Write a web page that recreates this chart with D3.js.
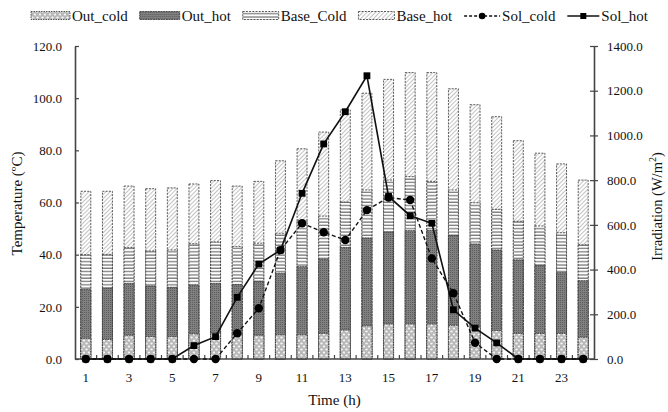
<!DOCTYPE html>
<html>
<head>
<meta charset="utf-8">
<script src="https://cdn.jsdelivr.net/npm/d3@7"></script>
<style>
  html, body { margin: 0; padding: 0; background: #fff; }
  svg text { font-family: "Liberation Serif", "Times New Roman", serif; fill: #111; }
</style>
</head>
<body>
<div id="chart"></div>
<script>
// hours of the day
var hours = [1, 2, 3, 4, 5, 6, 7, 8, 9, 10, 11, 12, 13, 14, 15, 16, 17, 18, 19, 20, 21, 22, 23, 24];
var xTickLabels = [1, 3, 5, 7, 9, 11, 13, 15, 17, 19, 21, 23];

// temperatures (ºC)
var outCold  = [7.9, 7.5, 9.1, 8.6, 8.6, 9.6, 10.0, 9.3, 9.1, 9.3, 9.3, 9.8, 11.1, 12.7, 13.4, 13.4, 13.4, 12.9, 12.2, 10.9, 9.8, 9.8, 9.8, 8.3];
var outHot   = [26.7, 27.2, 29.0, 28.0, 27.5, 28.3, 29.0, 28.5, 29.8, 32.9, 35.4, 38.2, 42.8, 46.4, 48.7, 49.2, 49.3, 47.4, 44.1, 41.8, 38.0, 35.9, 33.1, 30.0];
var baseCold = [40.0, 40.1, 42.7, 41.4, 41.8, 44.2, 44.9, 43.1, 44.4, 48.2, 53.2, 54.8, 60.2, 64.8, 68.6, 69.9, 68.1, 64.8, 59.9, 57.4, 52.8, 51.0, 48.4, 43.8];
var baseHot  = [64.3, 64.3, 66.3, 65.3, 65.6, 67.1, 68.4, 66.3, 68.1, 76.0, 80.6, 87.0, 95.5, 101.9, 107.2, 109.8, 109.8, 103.6, 97.5, 92.9, 83.7, 78.9, 74.8, 68.6];

// irradiation (W/m2)
var solCold = [0, 0, 0, 0, 0, 0, 0, 115, 227, 487, 607, 567, 532, 666, 722, 711, 450, 294, 73, 0, 0, 0, 0, 0];
var solHot  = [0, 0, 0, 0, 0, 60, 100, 276, 425, 487, 741, 962, 1106, 1267, 727, 641, 607, 220, 138, 72, 0, 0, 0, 0];

var leftTicks  = [0, 20, 40, 60, 80, 100, 120];
var rightTicks = [0, 200, 400, 600, 800, 1000, 1200, 1400];

var W = 668, H = 412;
var plot = {left: 75, right: 594, top: 46, bottom: 359};

var svg = d3.select('#chart').append('svg')
  .attr('width', W).attr('height', H);

//patterns for the four bar series
var defs = svg.append('defs');

var pCold = defs.append('pattern').attr('id', 'p-outcold')
  .attr('patternUnits', 'userSpaceOnUse').attr('width', 5).attr('height', 6);
pCold.append('rect').attr('width', 5).attr('height', 6).attr('fill', '#b8b8b8');
pCold.append('ellipse').attr('cx', 1.5).attr('cy', 1.5).attr('rx', 1.3).attr('ry', 1.1).attr('fill', '#f4f4f4');
pCold.append('ellipse').attr('cx', 4).attr('cy', 4.5).attr('rx', 1.3).attr('ry', 1.1).attr('fill', '#f4f4f4');

var pHot = defs.append('pattern').attr('id', 'p-outhot')
  .attr('patternUnits', 'userSpaceOnUse').attr('width', 2).attr('height', 2);
pHot.append('rect').attr('width', 2).attr('height', 2).attr('fill', '#808080');
pHot.append('rect').attr('width', 1).attr('height', 1).attr('fill', '#5e5e5e');

var pBaseCold = defs.append('pattern').attr('id', 'p-basecold')
  .attr('patternUnits', 'userSpaceOnUse').attr('width', 4).attr('height', 3.3);
pBaseCold.append('rect').attr('width', 4).attr('height', 3.3).attr('fill', '#fff');
pBaseCold.append('line').attr('x1', 0).attr('x2', 4).attr('y1', 1).attr('y2', 1)
  .attr('stroke', '#7a7a7a').attr('stroke-width', 1.3);

var pBaseHot = defs.append('pattern').attr('id', 'p-basehot')
  .attr('patternUnits', 'userSpaceOnUse').attr('width', 3).attr('height', 3)
  .attr('patternTransform', 'rotate(45)');
pBaseHot.append('rect').attr('width', 3).attr('height', 3).attr('fill', '#fff');
pBaseHot.append('line').attr('x1', 0).attr('x2', 0).attr('y1', 0).attr('y2', 3)
  .attr('stroke', '#9a9a9a').attr('stroke-width', 1.2);

// scales
var x = d3.scaleBand()
  .domain(hours)
  .range([plot.left, plot.right])
  .paddingInner(0.54)
  .paddingOuter(0.27);

var yT = d3.scaleLinear().domain([0, 120]).range([plot.bottom, plot.top]);
var yS = d3.scaleLinear().domain([0, 1400]).range([plot.bottom, plot.top]);

var cx = function(h) { return x(h) + x.bandwidth() / 2; };

// bars: drawn from zero, tallest first so each sits in front of the one above it
var barSeries = [
  {name: 'Base_hot',  values: baseHot,  fill: 'url(#p-basehot)',  dash: '2,1.2'},
  {name: 'Base_Cold', values: baseCold, fill: 'url(#p-basecold)', dash: '2,1.2'},
  {name: 'Out_hot',   values: outHot,   fill: 'url(#p-outhot)',   dash: '2,0.6'},
  {name: 'Out_cold',  values: outCold,  fill: 'url(#p-outcold)',  dash: '1.5,1'}
];

barSeries.forEach(function(s) {
  svg.append('g')
    .selectAll('rect')
    .data(hours)
    .enter().append('rect')
      .attr('x', function(h) { return x(h); })
      .attr('y', function(h, i) { return yT(s.values[i]); })
      .attr('width', x.bandwidth())
      .attr('height', function(h, i) { return yT(0) - yT(s.values[i]); })
      .attr('fill', s.fill)
      .attr('stroke', '#333')
      .attr('stroke-width', 0.8)
      .attr('stroke-dasharray', s.dash);
});

// axes
var axisColor = '#444';
var tickFont = '13px';

var gLeft = svg.append('g')
  .attr('transform', 'translate(' + plot.left + ',0)')
  .call(d3.axisLeft(yT).tickValues(leftTicks).tickFormat(d3.format('.1f')).tickSizeInner(4).tickSizeOuter(0).tickPadding(9));
gLeft.selectAll('.tick line').attr('x2', 4);

var gRight = svg.append('g')
  .attr('transform', 'translate(' + plot.right + ',0)')
  .call(d3.axisRight(yS).tickValues(rightTicks).tickFormat(d3.format('.1f')).tickSizeInner(4).tickSizeOuter(0).tickPadding(9));
gRight.selectAll('.tick line').attr('x1', -4);

[gLeft, gRight].forEach(function(g) {
  g.select('.domain').attr('stroke', axisColor).attr('stroke-width', 1.6);
  g.selectAll('.tick line').attr('stroke', axisColor).attr('stroke-width', 1.2);
  g.selectAll('.tick text').style('font-size', tickFont).attr('fill', '#111');
});

// x axis: ticks at band boundaries, pointing up
var boundaries = hours.slice(1).map(function(h) { return x(h) - x.step() * x.paddingInner() / 2; });
var gBottom = svg.append('g');
gBottom.append('line')
  .attr('x1', plot.left).attr('x2', plot.right)
  .attr('y1', plot.bottom).attr('y2', plot.bottom)
  .attr('stroke', axisColor).attr('stroke-width', 1.6);
gBottom.selectAll('line.tk')
  .data(boundaries)
  .enter().append('line').attr('class', 'tk')
    .attr('x1', function(d) { return d; }).attr('x2', function(d) { return d; })
    .attr('y1', plot.bottom).attr('y2', plot.bottom - 4)
    .attr('stroke', axisColor).attr('stroke-width', 1.2);
gBottom.selectAll('text')
  .data(xTickLabels)
  .enter().append('text')
    .attr('x', function(h) { return cx(h); })
    .attr('y', plot.bottom + 23)
    .attr('text-anchor', 'middle')
    .style('font-size', tickFont)
    .text(function(h) { return h; });

// axis titles
svg.append('text')
  .attr('x', (plot.left + plot.right) / 2)
  .attr('y', 405)
  .attr('text-anchor', 'middle')
  .style('font-size', '15px')
  .text('Time (h)');

svg.append('text')
  .attr('transform', 'translate(22,' + ((plot.top + plot.bottom) / 2 + 1) + ') rotate(-90)')
  .attr('text-anchor', 'middle')
  .style('font-size', '15px')
  .text('Temperature (ºC)');

var rTitle = svg.append('text')
  .attr('transform', 'translate(662,' + ((plot.top + plot.bottom) / 2 + 4) + ') rotate(-90)')
  .attr('text-anchor', 'middle')
  .style('font-size', '14.5px');
rTitle.append('tspan').text('Irradiation (W/m');
rTitle.append('tspan').attr('dy', -6).style('font-size', '10px').text('2');
rTitle.append('tspan').attr('dy', 6).text(')');

// irradiation lines
var lineFor = function(vals) {
  return d3.line()
    .x(function(h) { return cx(h); })
    .y(function(h, i) { return yS(vals[i]); })(hours);
};

svg.append('path')
  .attr('d', lineFor(solCold))
  .attr('fill', 'none').attr('stroke', '#111').attr('stroke-width', 1.4)
  .attr('stroke-dasharray', '4,2.5');

svg.append('path')
  .attr('d', lineFor(solHot))
  .attr('fill', 'none').attr('stroke', '#111').attr('stroke-width', 1.6);

svg.append('g').selectAll('circle')
  .data(hours)
  .enter().append('circle')
    .attr('cx', function(h) { return cx(h); })
    .attr('cy', function(h, i) { return yS(solCold[i]); })
    .attr('r', 4.2)
    .attr('fill', '#000');

svg.append('g').selectAll('rect')
  .data(hours)
  .enter().append('rect')
    .attr('x', function(h) { return cx(h) - 3.4; })
    .attr('y', function(h, i) { return yS(solHot[i]) - 3.4; })
    .attr('width', 6.8).attr('height', 6.8)
    .attr('fill', '#000');

// legend: items spread evenly between the two ends seen in the picture
var legendStart = 31, legendEnd = 648;
var legendItems = [
  {name: 'Out_cold',  type: 'bar',  fill: 'url(#p-outcold)',  dash: '1.5,1', sw: 39},
  {name: 'Out_hot',   type: 'bar',  fill: 'url(#p-outhot)',   dash: '2,0.6', sw: 40},
  {name: 'Base_Cold', type: 'bar',  fill: 'url(#p-basecold)', dash: '2,1.2', sw: 36},
  {name: 'Base_hot',  type: 'bar',  fill: 'url(#p-basehot)',  dash: '2,1.2', sw: 36},
  {name: 'Sol_cold',  type: 'line', dash: '3,2', marker: 'circle', sw: 36},
  {name: 'Sol_hot',   type: 'line', dash: null,  marker: 'square', sw: 32}
];

var legend = svg.append('g').attr('transform', 'translate(0,16)');
var groups = legendItems.map(function(it) {
  var g = legend.append('g');
  if(it.type === 'bar') {
    g.append('rect').attr('x', 0).attr('y', -4.5).attr('width', it.sw).attr('height', 8)
      .attr('fill', it.fill).attr('stroke', '#333').attr('stroke-width', 0.8)
      .attr('stroke-dasharray', it.dash);
  } else {
    g.append('line').attr('x1', 0).attr('x2', it.sw).attr('y1', 0).attr('y2', 0)
      .attr('stroke', '#111').attr('stroke-width', 1.4)
      .attr('stroke-dasharray', it.dash);
    if(it.marker === 'circle') {
      g.append('circle').attr('cx', it.sw / 2).attr('cy', 0).attr('r', 3.3).attr('fill', '#000');
    } else {
      g.append('rect').attr('x', it.sw / 2 - 3).attr('y', -3).attr('width', 6).attr('height', 6).attr('fill', '#000');
    }
  }
  var t = g.append('text')
    .attr('x', it.sw + 2)
    .attr('y', 5)
    .style('font-size', '15px')
    .text(it.name);
  return {g: g, width: it.sw + 2 + t.node().getComputedTextLength()};
});

var used = d3.sum(groups, function(d) { return d.width; });
var gap = (legendEnd - legendStart - used) / (groups.length - 1);
var pos = legendStart;
groups.forEach(function(d) {
  d.g.attr('transform', 'translate(' + pos + ',0)');
  pos += d.width + gap;
});
</script>
</body>
</html>
